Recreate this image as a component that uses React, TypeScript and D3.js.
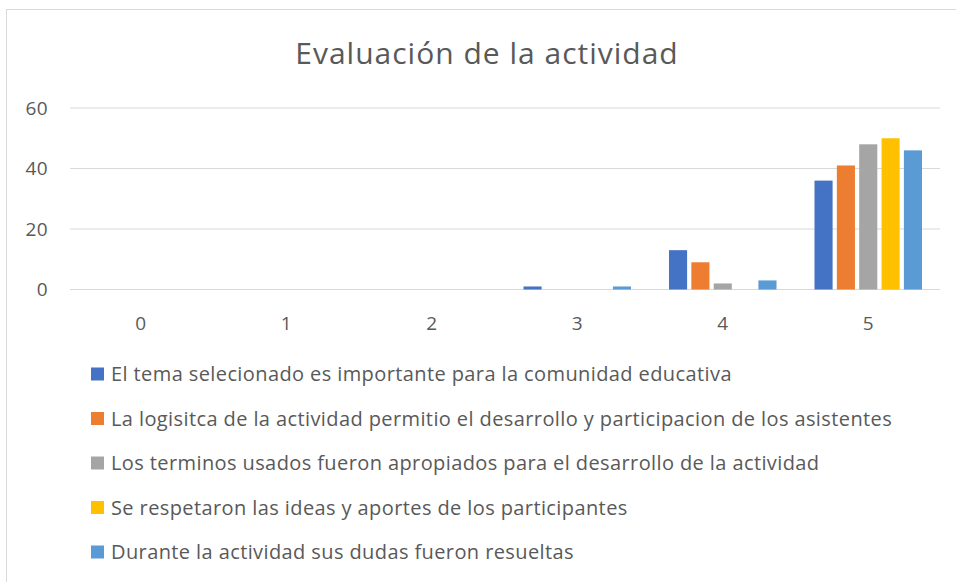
import React from "react";
import * as d3 from "d3";

const categories = ["0", "1", "2", "3", "4", "5"];
const seriesNames = [
  "El tema selecionado es importante para la comunidad educativa",
  "La logisitca de la actividad permitio el desarrollo y participacion de los asistentes",
  "Los terminos usados fueron apropiados para el desarrollo de la actividad",
  "Se respetaron las ideas y aportes de los participantes",
  "Durante la actividad sus dudas fueron resueltas",
];
const seriesColors = ["#4472C4", "#ED7D31", "#A5A5A5", "#FFC000", "#5B9BD5"];
const temaValues = [0, 0, 0, 1, 13, 36];
const logisticaValues = [0, 0, 0, 0, 9, 41];
const terminosValues = [0, 0, 0, 0, 2, 48];
const ideasValues = [0, 0, 0, 0, 0, 50];
const dudasValues = [0, 0, 0, 1, 3, 46];
const yTicks = [0, 20, 40, 60];

const seriesValues = [temaValues, logisticaValues, terminosValues, ideasValues, dudasValues];

const W = 956;
const H = 582;
const FONT = "'Open Sans', sans-serif";
const TEXT = "#595959";

export default function App() {
  const x = d3.scaleBand().domain(categories).range([68, 941]).padding(0);
  // bars inside one category
  const x1 = d3
    .scaleBand()
    .domain(d3.range(seriesNames.length).map(String))
    .range([19, x.bandwidth() - 19])
    .paddingInner(0.19)
    .paddingOuter(0);
  const y = d3.scaleLinear().domain([0, 60]).range([289.5, 108]);

  const legendY = d3.scalePoint().domain(seriesNames).range([374, 552]);

  return (
    <svg width={W} height={H} style={{ position: "absolute", left: 0, top: 0 }} fontFamily={FONT}>
      <rect x={0} y={0} width={W} height={H} fill="#fff" />
      <rect x={6.5} y={9.5} width={W + 10} height={H + 10} fill="none" stroke="#D9D9D9" strokeWidth={1} />

      <text x={487} y={64} textAnchor="middle" fontSize={30} letterSpacing={1} fill={TEXT}>
        Evaluación de la actividad
      </text>

      {yTicks.map((t) => (
        <g key={t}>
          <line x1={70} x2={940} y1={y(t)} y2={y(t)} stroke="#D9D9D9" strokeWidth={1.2} />
          <text x={48} y={y(t)} dy="0.35em" textAnchor="end" fontSize={19} letterSpacing={0.4} fill={TEXT}>
            {t}
          </text>
        </g>
      ))}

      {categories.map((c, i) => (
        <g key={c} transform={`translate(${x(c)},0)`}>
          {seriesValues.map((vals, s) =>
            vals[i] > 0 ? (
              <rect
                key={s}
                x={x1(String(s))}
                y={y(vals[i])}
                width={x1.bandwidth()}
                height={y(0) - y(vals[i])}
                fill={seriesColors[s]}
              />
            ) : null
          )}
          <text x={x.bandwidth() / 2} y={330} textAnchor="middle" fontSize={19} fill={TEXT}>
            {c}
          </text>
        </g>
      ))}

      {seriesNames.map((name, s) => (
        <g key={name} transform={`translate(0,${legendY(name)})`}>
          <rect x={91} y={-6.5} width={13} height={13} fill={seriesColors[s]} />
          <text x={111} y={0} dy="0.36em" fontSize={20} letterSpacing={0.4} fill={TEXT}>
            {name}
          </text>
        </g>
      ))}
    </svg>
  );
}
